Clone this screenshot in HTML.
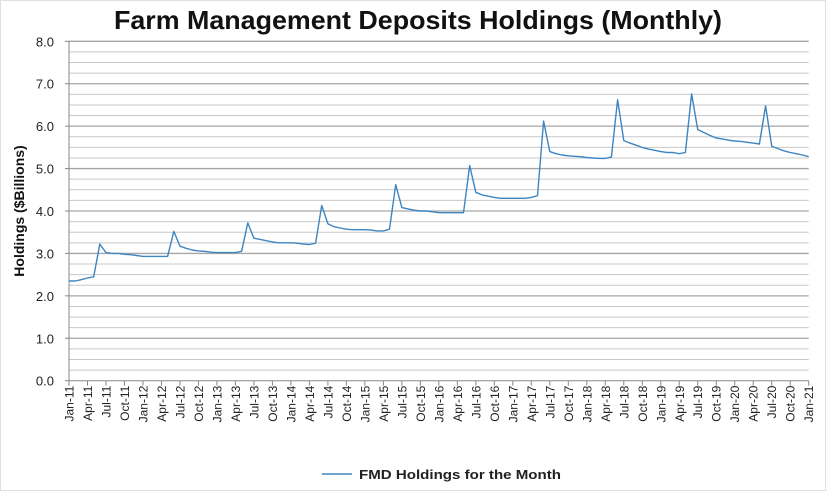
<!DOCTYPE html>
<html><head><meta charset="utf-8"><style>
html,body{margin:0;padding:0;background:#fff;}
svg{display:block;font-family:"Liberation Sans",sans-serif;}
</style></head><body>
<svg id="c" width="826" height="491" viewBox="0 0 826 491" xmlns="http://www.w3.org/2000/svg">
<rect x="0.5" y="0.5" width="825" height="490" fill="#fff" stroke="#d9e1e6"/>
<text x="418" y="29" text-anchor="middle" font-size="26" font-weight="bold" fill="#111" textLength="608" lengthAdjust="spacingAndGlyphs">Farm Management Deposits Holdings (Monthly)</text>
<g id="grid"></g>
<g id="ylab" font-size="13" fill="#222" text-anchor="end"></g>
<text transform="translate(24,211) rotate(-90)" text-anchor="middle" font-size="14" font-weight="bold" fill="#111">Holdings ($Billions)</text>
<g id="xlab" font-size="12" fill="#222"></g>
<polyline id="line" fill="none" stroke="#3d85c0" stroke-width="1.4" stroke-linejoin="round"/>
<line x1="322" y1="474" x2="352" y2="474" stroke="#3d85c0" stroke-width="1.6"/>
<text x="359" y="479" font-size="13" font-weight="bold" fill="#222" textLength="202" lengthAdjust="spacingAndGlyphs">FMD Holdings for the Month</text>
</svg>
<script>
var NS="http://www.w3.org/2000/svg";
var x0=69,x1=808.7,y0=380.7,yt=41.3,ppu=(y0-yt)/8;
function el(t,a,p,txt){var e=document.createElementNS(NS,t);for(var k in a)e.setAttribute(k,a[k]);if(txt)e.textContent=txt;p.appendChild(e);return e;}
var g=document.getElementById('grid');
for(var i=1;i<=32;i++){var y=y0-i*ppu/4;el('line',{x1:x0,x2:x1,y1:y,y2:y,stroke:(i%4==0)?'#a6a6a6':'#c8c8c8','stroke-width':(i%4==0)?1.3:1},g);}
el('line',{x1:x0,x2:x0,y1:yt,y2:y0,stroke:'#888','stroke-width':1},g);
el('line',{x1:x0,x2:x1,y1:y0,y2:y0,stroke:'#888','stroke-width':1},g);
var yl=document.getElementById('ylab');
for(var v=0;v<=8;v++){var y=y0-v*ppu;el('text',{x:54,y:y+5},yl,v.toFixed(1));el('line',{x1:x0-4,x2:x0,y1:y,y2:y,stroke:'#888'},g);}
var mon=['Jan','Apr','Jul','Oct'];
var xl=document.getElementById('xlab');
var step=(x1-x0)/40;
for(var q=0;q<=40;q++){var x=x0+q*step;el('line',{x1:x,x2:x,y1:y0,y2:y0+5,stroke:'#888'},g);
var lab=mon[q%4]+'-'+(11+Math.floor(q/4));
el('text',{transform:'translate('+(x+4.5)+','+(y0+5)+') rotate(-90)','text-anchor':'end'},xl,lab);}
var d=[2.35,2.35,2.38,2.42,2.45,3.22,3.02,3.0,3.0,2.98,2.97,2.95,
2.93,2.93,2.93,2.93,2.93,3.52,3.17,3.12,3.08,3.06,3.05,3.03,
3.02,3.02,3.02,3.02,3.05,3.72,3.36,3.33,3.30,3.27,3.25,3.25,
3.25,3.24,3.22,3.21,3.24,4.13,3.70,3.63,3.60,3.57,3.56,3.56,
3.56,3.55,3.53,3.53,3.57,4.62,4.08,4.05,4.02,4.00,4.00,3.98,
3.96,3.96,3.96,3.96,3.96,5.07,4.44,4.38,4.35,4.32,4.30,4.30,
4.30,4.30,4.30,4.32,4.36,6.12,5.40,5.35,5.32,5.30,5.29,5.28,
5.26,5.25,5.24,5.24,5.27,6.62,5.66,5.60,5.55,5.50,5.46,5.43,
5.40,5.38,5.38,5.35,5.38,6.76,5.92,5.85,5.78,5.72,5.70,5.67,
5.65,5.64,5.62,5.60,5.58,6.48,5.53,5.47,5.42,5.38,5.35,5.32,5.28];
var mstep=(x1-x0)/120,pts=[];
for(var i=0;i<d.length;i++)pts.push((x0+i*mstep).toFixed(1)+','+(y0-d[i]*ppu).toFixed(1));
document.getElementById('line').setAttribute('points',pts.join(' '));
</script>
</body></html>
